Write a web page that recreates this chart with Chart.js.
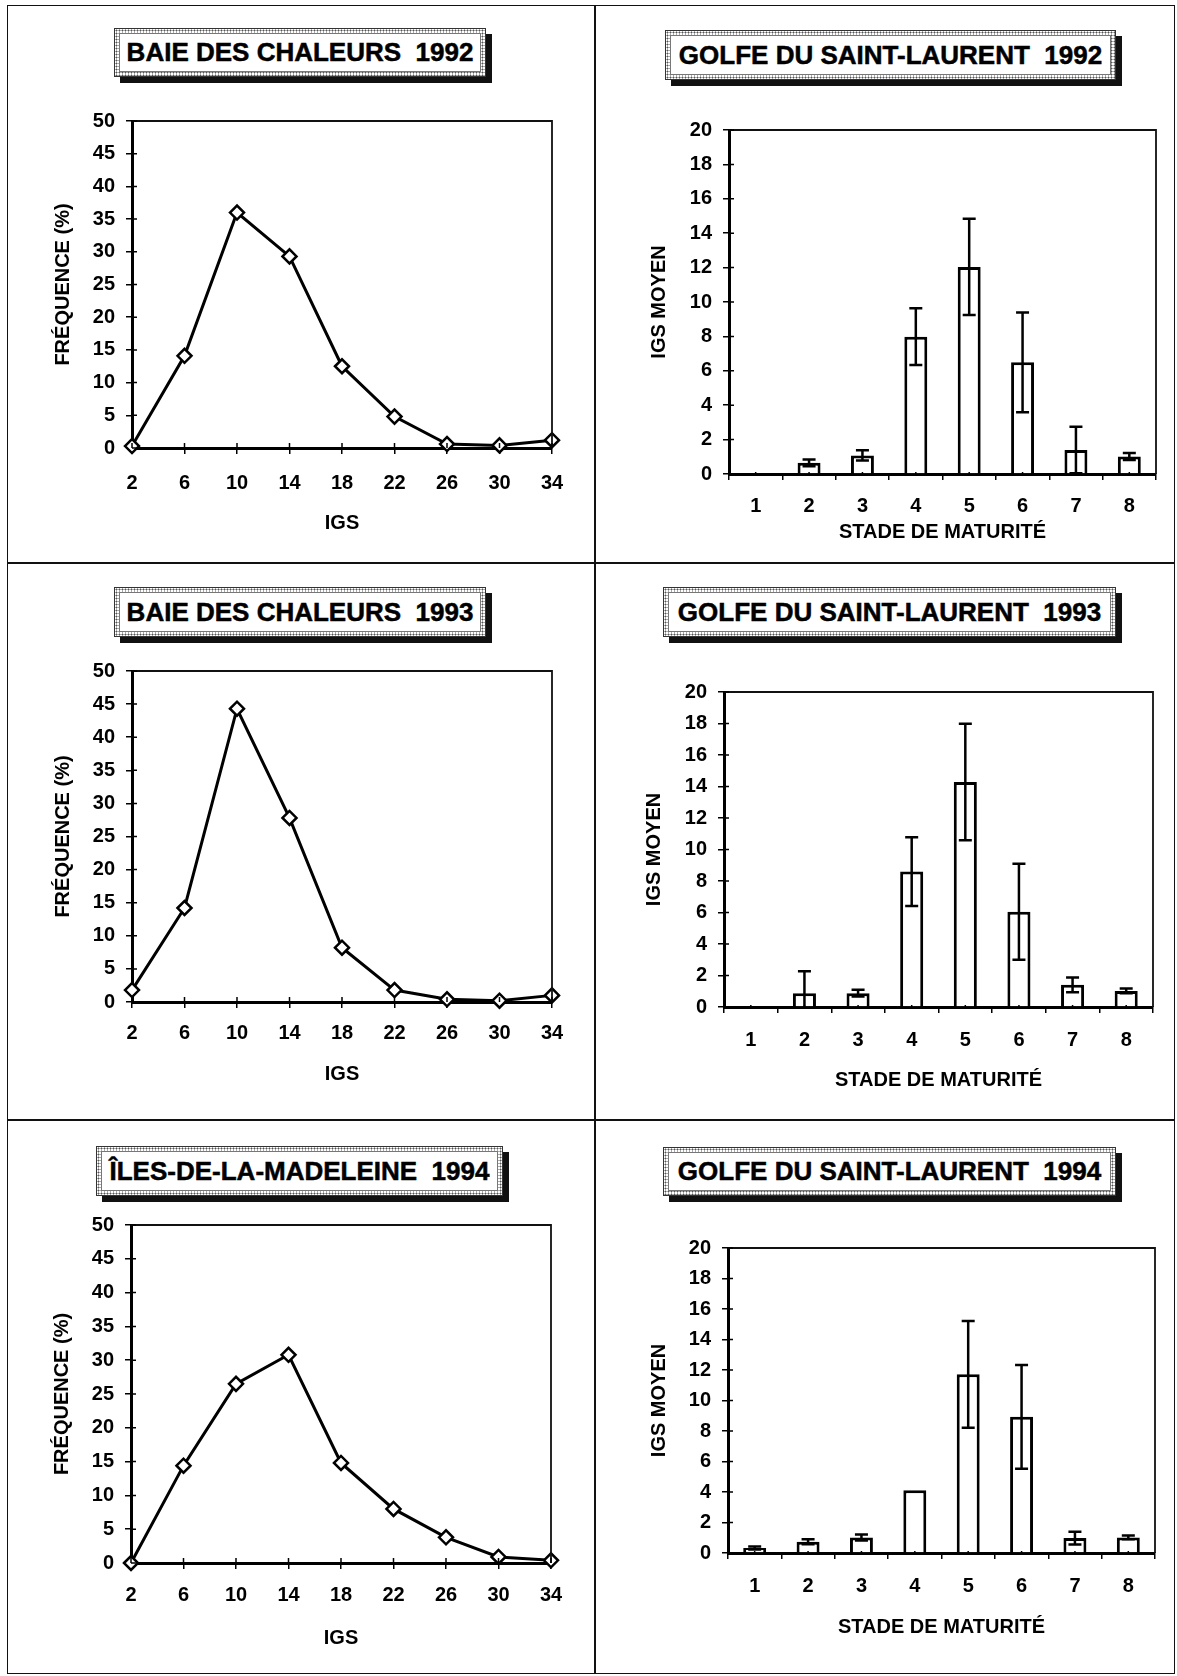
<!DOCTYPE html>
<html>
<head>
<meta charset="utf-8">
<script src="https://cdn.jsdelivr.net/npm/chart.js@4.4.1/dist/chart.umd.min.js"></script>
<style>
  body { margin: 0; background: #fff; width: 1177px; height: 1676px; position: relative; overflow: hidden; }
  .frame { position: absolute; left: 7px; top: 5px; width: 1166px; height: 1667px; border: 1.5px solid #111; }
  .rule { position: absolute; background: #111; }
  canvas { position: absolute; }
  .ttl { position: absolute; box-sizing: border-box; border: 1px solid #333; padding: 4px;
         background: #fff radial-gradient(#555 0.8px, transparent 1.2px) 0 0 / 3px 3px;
         box-shadow: 6px 6px 0 #111; }
  .ttl span { display: flex; align-items: center; justify-content: center; height: 100%; box-sizing: border-box;
              background: #fff; border: 1px solid #777; color: #000; white-space: pre;
              font: bold 26px "Liberation Sans", Arial, sans-serif; -webkit-text-stroke: 0.5px #000; }
</style>
</head>
<body>
<div class="frame"></div>
<div class="rule" style="left:594px; top:5px; width:1.5px; height:1668px;"></div>
<div class="rule" style="left:7px; top:562px; width:1167px; height:1.5px;"></div>
<div class="rule" style="left:7px; top:1119px; width:1167px; height:1.5px;"></div>

<canvas id="c1" width="586" height="556" style="left:8px; top:6px;"></canvas>
<canvas id="c2" width="578" height="556" style="left:596px; top:6px;"></canvas>
<canvas id="c3" width="586" height="555" style="left:8px; top:564px;"></canvas>
<canvas id="c4" width="578" height="555" style="left:596px; top:564px;"></canvas>
<canvas id="c5" width="586" height="551" style="left:8px; top:1121px;"></canvas>
<canvas id="c6" width="578" height="551" style="left:596px; top:1121px;"></canvas>

<div class="ttl" style="left:114px; top:28px; width:372px; height:49px;"><span>BAIE DES CHALEURS  1992</span></div>
<div class="ttl" style="left:665px; top:30px; width:451px; height:50px;"><span>GOLFE DU SAINT-LAURENT  1992</span></div>
<div class="ttl" style="left:114px; top:587px; width:372px; height:50px;"><span>BAIE DES CHALEURS  1993</span></div>
<div class="ttl" style="left:663px; top:587px; width:453px; height:50px;"><span>GOLFE DU SAINT-LAURENT  1993</span></div>
<div class="ttl" style="left:96px; top:1146px; width:407px; height:50px;"><span>ÎLES-DE-LA-MADELEINE  1994</span></div>
<div class="ttl" style="left:663px; top:1147px; width:453px; height:49px;"><span>GOLFE DU SAINT-LAURENT  1994</span></div>

<script>
// classes d'IGS (axe x des courbes de fréquence)
const igsClasses = ['2', '6', '10', '14', '18', '22', '26', '30', '34'];
const freqBdc1992 = [0.3, 14.1, 36.0, 29.3, 12.5, 4.8, 0.6, 0.4, 1.2];
const freqBdc1993 = [1.8, 14.2, 44.3, 27.8, 8.2, 1.8, 0.4, 0.2, 1.0];
const freqIdm1994 = [0.0, 14.4, 26.5, 30.8, 14.8, 8.0, 3.8, 0.9, 0.4];

// stades de maturité : IGS moyen et écart
const stades = ['1', '2', '3', '4', '5', '6', '7', '8'];
const igsGsl1992 = [0.05, 0.65, 1.08, 7.98, 12.04, 6.49, 1.39, 1.02];
const errGsl1992 = [0, 0.2, 0.3, 1.65, 2.8, 2.9, 1.35, 0.2];
const igsGsl1993 = [0, 0.88, 0.88, 8.6, 14.29, 6.05, 1.41, 1.02];
const errGsl1993 = [0, 1.39, 0.22, 2.18, 3.7, 3.05, 0.47, 0.15];
const igsGsl1994 = [0.33, 0.74, 1.02, 4.12, 11.72, 8.93, 0.98, 1.02];
const errGsl1994 = [0.1, 0.16, 0.2, 0, 3.5, 3.4, 0.42, 0.12];

const freqMax = 50, freqStep = 5;
const igsMax = 20, igsStep = 2;

Chart.defaults.font.family = "'Liberation Sans', Arial, sans-serif";
Chart.defaults.color = '#000';

const tickFont = { size: 20, weight: 'bold' };
const titleFont = { size: 20, weight: 'bold' };

// top and right sides of the plot box + inward part of the tick marks
const boxAndTicks = {
    id: 'boxAndTicks',
    afterDraw(chart, args, opts) {
        const { ctx, chartArea: a, scales: { x, y } } = chart;
        ctx.save();
        ctx.strokeStyle = '#111';
        ctx.lineWidth = 1.8;
        ctx.beginPath();
        ctx.moveTo(a.left, a.top);
        ctx.lineTo(a.right, a.top);
        ctx.lineTo(a.right, a.bottom);
        ctx.stroke();
        ctx.strokeStyle = '#000';
        ctx.lineWidth = 1.5;
        ctx.beginPath();
        y.ticks.forEach((t, i) => {
            const py = y.getPixelForTick(i);
            ctx.moveTo(a.left, py);
            ctx.lineTo(a.left + opts.inY, py);
        });
        if (opts.inX) {
            x.ticks.forEach((t, i) => {
                const px = x.getPixelForTick(i);
                ctx.moveTo(px, a.bottom);
                ctx.lineTo(px, a.bottom - opts.inX);
            });
        }
        ctx.stroke();
        ctx.restore();
    }
};

const errorBars = {
    id: 'errorBars',
    afterDatasetsDraw(chart, args, opts) {
        const { ctx, chartArea: a } = chart;
        const y = chart.scales.y;
        const vals = chart.data.datasets[0].data;
        const meta = chart.getDatasetMeta(0);
        ctx.save();
        ctx.beginPath();
        ctx.rect(a.left, 0, a.width, a.bottom);
        ctx.clip();
        ctx.strokeStyle = '#000';
        ctx.lineWidth = 2.5;
        meta.data.forEach((bar, i) => {
            const e = opts.errors[i];
            if (!e) return;
            const top = y.getPixelForValue(vals[i] + e);
            const bot = y.getPixelForValue(vals[i] - e);
            ctx.beginPath();
            ctx.moveTo(bar.x, top);
            ctx.lineTo(bar.x, bot);
            ctx.moveTo(bar.x - 6.5, top);
            ctx.lineTo(bar.x + 6.5, top);
            ctx.moveTo(bar.x - 6.5, bot);
            ctx.lineTo(bar.x + 6.5, bot);
            ctx.stroke();
        });
        ctx.restore();
    }
};

function makeFreqChart(id, values, box) {
    new Chart(document.getElementById(id), {
        type: 'line',
        data: {
            labels: igsClasses,
            datasets: [{
                data: values,
                borderColor: '#000',
                borderWidth: 3,
                tension: 0,
                clip: false,
                pointStyle: 'rectRot',
                pointRadius: 7,
                pointBackgroundColor: '#fff',
                pointBorderColor: '#000',
                pointBorderWidth: 2.5
            }]
        },
        options: {
            responsive: false,
            animation: false,
            layout: { padding: { top: box.top, right: box.right, left: 0, bottom: 0 } },
            plugins: { legend: { display: false }, tooltip: { enabled: false }, boxAndTicks: { inY: 5, inX: 5 } },
            scales: {
                x: {
                    offset: false,
                    grid: { drawOnChartArea: false, tickLength: 6, color: '#000', lineWidth: 1.5 },
                    border: { color: '#000', width: 3 },
                    ticks: { font: tickFont, padding: box.xPad, maxRotation: 0, autoSkip: false },
                    title: { display: true, text: 'IGS', font: titleFont, padding: { top: 0, bottom: box.xTitle } },
                    afterFit(s) { s.height = box.xh; }
                },
                y: {
                    min: 0, max: freqMax,
                    grid: { drawOnChartArea: false, tickLength: 6, color: '#000', lineWidth: 1.5 },
                    border: { color: '#000', width: 3 },
                    ticks: { stepSize: freqStep, font: tickFont, padding: 11 },
                    title: { display: true, text: 'FRÉQUENCE (%)', font: titleFont, padding: { top: box.yTitle, bottom: 0 } },
                    afterFit(s) { s.width = box.yw; }
                }
            }
        },
        plugins: [boxAndTicks]
    });
}

function makeStadeChart(id, means, errors, box) {
    new Chart(document.getElementById(id), {
        type: 'bar',
        data: {
            labels: stades,
            datasets: [{
                data: means,
                backgroundColor: '#fff',
                borderColor: '#000',
                borderWidth: 3,
                borderSkipped: 'start',
                categoryPercentage: 1,
                barPercentage: 0.43
            }]
        },
        options: {
            responsive: false,
            animation: false,
            layout: { padding: { top: box.top, right: box.right, left: 0, bottom: 0 } },
            plugins: { legend: { display: false }, tooltip: { enabled: false }, boxAndTicks: { inY: 5, inX: 2 }, errorBars: { errors: errors } },
            scales: {
                x: {
                    grid: { drawOnChartArea: false, tickLength: 6, color: '#000', lineWidth: 1.5 },
                    border: { color: '#000', width: 3 },
                    ticks: { font: tickFont, padding: box.xPad, maxRotation: 0 },
                    title: { display: true, text: 'STADE DE MATURITÉ', font: titleFont, padding: { top: 0, bottom: box.xTitle } },
                    afterFit(s) { s.height = box.xh; }
                },
                y: {
                    min: 0, max: igsMax,
                    grid: { drawOnChartArea: false, tickLength: 6, color: '#000', lineWidth: 1.5 },
                    border: { color: '#000', width: 3 },
                    ticks: { stepSize: igsStep, font: tickFont, padding: 11 },
                    title: { display: true, text: 'IGS MOYEN', font: titleFont, padding: { top: box.yTitle, bottom: 0 } },
                    afterFit(s) { s.width = box.yw; }
                }
            }
        },
        plugins: [boxAndTicks, errorBars]
    });
}

makeFreqChart('c1', freqBdc1992, { top: 115, right: 42, yw: 124, xh: 114, xPad: 17, xTitle: 27, yTitle: 43 });
makeFreqChart('c3', freqBdc1993, { top: 107, right: 42, yw: 124, xh: 117, xPad: 13, xTitle: 33, yTitle: 43 });
makeFreqChart('c5', freqIdm1994, { top: 104, right: 43, yw: 123, xh: 109, xPad: 14, xTitle: 22, yTitle: 42 });

makeStadeChart('c2', igsGsl1992, errGsl1992, { top: 124, right: 18, yw: 133, xh: 88, xPad: 14, xTitle: 18, yTitle: 51 });
makeStadeChart('c4', igsGsl1993, errGsl1993, { top: 128, right: 21, yw: 128, xh: 112, xPad: 15, xTitle: 27, yTitle: 46 });
makeStadeChart('c6', igsGsl1994, errGsl1994, { top: 127, right: 19, yw: 132, xh: 119, xPad: 15, xTitle: 33, yTitle: 51 });
</script>
</body>
</html>
